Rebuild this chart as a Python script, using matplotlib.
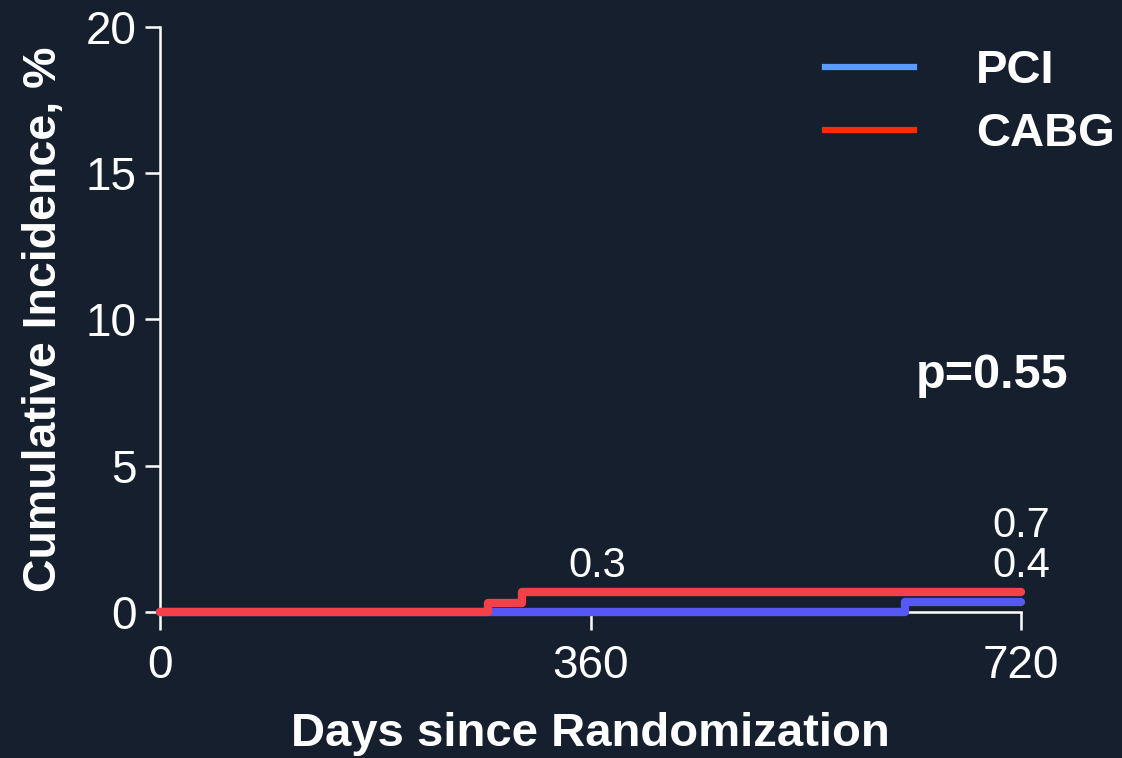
import matplotlib
matplotlib.use("Agg")
import matplotlib.pyplot as plt

plt.rcParams['font.family'] = ['Liberation Sans', 'DejaVu Sans']

# cumulative incidence (%) step data
pci_days = [0, 623, 720]
pci_inc = [0.0, 0.35, 0.35]
cabg_days = [0, 274, 303, 720]
cabg_inc = [0.0, 0.3, 0.7, 0.7]

x_ticks = [0, 360, 720]
y_ticks = [0, 5, 10, 15, 20]

bg = '#151f2d'
pci_line = '#5558f5'
cabg_line = '#f44048'
pci_legend = '#5b9aff'
cabg_legend = '#ff2a00'

fig = plt.figure(figsize=(11.22, 7.58), dpi=100, facecolor=bg)
ax = fig.add_axes([0.1426, 0.1926, 0.7674, 0.7718])
ax.set_facecolor(bg)

ax.plot(pci_days, pci_inc, drawstyle='steps-post', color=pci_line, lw=6,
        solid_capstyle='round', clip_on=False, zorder=3)
ax.plot(cabg_days, cabg_inc, drawstyle='steps-post', color=cabg_line, lw=6,
        solid_capstyle='round', clip_on=False, zorder=4)

ax.set_xlim(0, 720)
ax.set_ylim(0, 20)
ax.set_xticks(x_ticks)
ax.set_yticks(y_ticks)

for s in ['top', 'right']:
    ax.spines[s].set_visible(False)
for s in ['left', 'bottom']:
    ax.spines[s].set_color('white')
    ax.spines[s].set_linewidth(1.8)
    ax.spines[s].set_zorder(2)

ax.tick_params(axis='both', colors='white', width=1.8, labelsize=33)
ax.tick_params(axis='y', length=11, pad=6)
ax.tick_params(axis='x', length=13, pad=10)

ax.set_xlabel('Days since Randomization', fontsize=34, fontweight='bold',
              color='white', labelpad=17)
ax.set_ylabel('Cumulative Incidence, %', fontsize=33.5, fontweight='bold',
              color='white', labelpad=14)

# value labels
ax.text(366, 0.9, '0.3', color='white', fontsize=30, ha='center', va='bottom')
ax.text(720, 2.25, '0.7', color='white', fontsize=30, ha='center', va='bottom')
ax.text(720, 0.9, '0.4', color='white', fontsize=30, ha='center', va='bottom')

ax.text(0.966, 0.405, 'p=0.55', transform=ax.transAxes, color='white',
        fontsize=35, fontweight='bold', ha='center', va='center')

# legend drawn by hand
ax.plot([0.772, 0.876], [0.932, 0.932], transform=ax.transAxes,
        color=pci_legend, lw=4.5, clip_on=False)
ax.plot([0.772, 0.876], [0.824, 0.824], transform=ax.transAxes,
        color=cabg_legend, lw=4.5, clip_on=False)
ax.text(0.948, 0.925, 'PCI', transform=ax.transAxes, color='white',
        fontsize=34, fontweight='bold', va='center', clip_on=False)
ax.text(0.948, 0.817, 'CABG', transform=ax.transAxes, color='white',
        fontsize=34, fontweight='bold', va='center', clip_on=False)

fig.savefig('out.png', dpi=100, facecolor=bg)
